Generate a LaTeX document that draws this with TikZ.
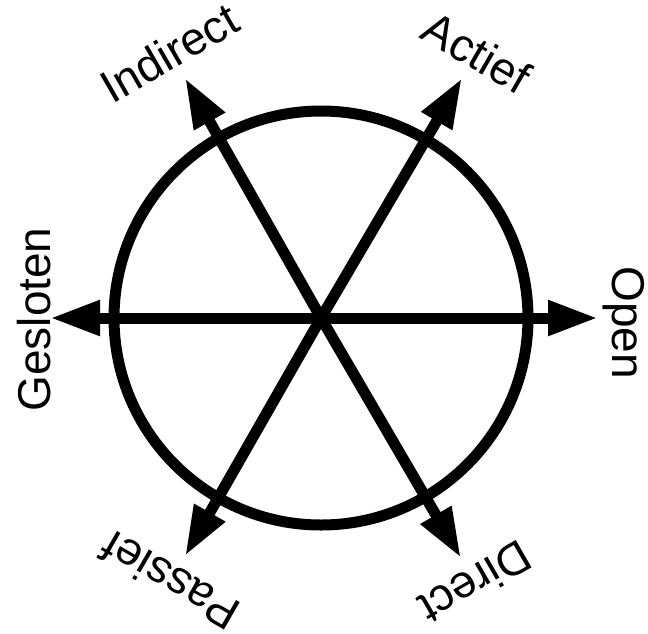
\documentclass[tikz,border=0pt]{standalone}
\usepackage{fontspec}
\setmainfont{Liberation Sans}
\usetikzlibrary{arrows.meta}
\tikzset{
  axis/.style={line width=11pt, -{Triangle[length=50pt,width=33pt]}},
  ring/.style={line width=11pt},
  lbl/.style={inner sep=0pt, anchor=base, font=\fontsize{46}{50}\selectfont}
}
\begin{document}
\begin{tikzpicture}[x=1pt,y=-1pt]
\useasboundingbox (0,0) rectangle (648,633);
\coordinate (c) at (321,318);
\coordinate (tO) at (598,318);
\coordinate (tG) at (50,318);
\coordinate (tA) at (462,78);
\coordinate (tI) at (185,78);
\coordinate (tP) at (185,556);
\coordinate (tD) at (461,558);
\draw[ring] (c) circle (207pt);
\draw[axis] (c) -- (tO);
\draw[axis] (c) -- (tG);
\draw[axis] (c) -- (tA);
\draw[axis] (c) -- (tI);
\draw[axis] (c) -- (tP);
\draw[axis] (c) -- (tD);
\node[lbl, rotate=-90] (lO) at (612,322.5) {Open};
\node[lbl, rotate=90] (lG) at (50,319.5) {Gesloten};
\node[lbl, rotate=-30] (lA) at (468.5,66.7) {Actief};
\node[lbl, rotate=30] (lI) at (177.5,67) {Indirect};
\node[lbl, rotate=150] (lP) at (178.5,567) {Passief};
\node[lbl, rotate=-150] (lD) at (467.5,569) {Direct};
\end{tikzpicture}
\end{document}
